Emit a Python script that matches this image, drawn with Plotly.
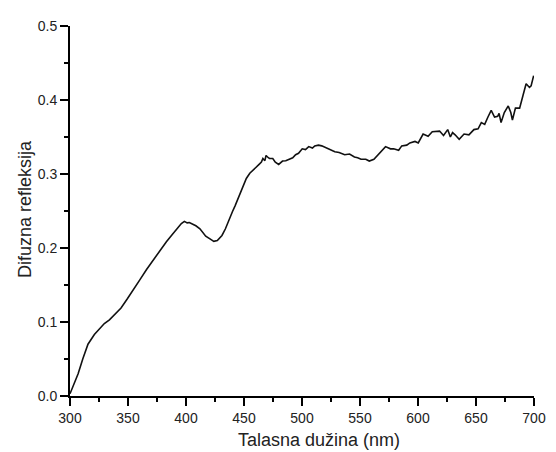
import plotly.graph_objects as go

wavelength = [300, 303, 307, 311, 315.5, 321, 325, 329.6, 334, 338, 344, 349.3, 355, 360.6, 366, 371.9,
              377, 383.1, 388, 393, 396, 398.6, 401, 402.9, 406, 408.5, 412, 417, 421, 424, 427, 431,
              434, 436.7, 440, 442.3, 446, 449.4, 452, 455, 458, 460.7, 463, 465, 466.3, 468, 469, 471,
              472, 474.8, 477, 479.9, 483.2, 486, 488.9, 492, 494.5, 497, 500.2, 503, 505.8, 509, 511,
              514.2, 517, 519.9, 524, 528.3, 532, 536.8, 541, 545.2, 548, 550.9, 555, 558, 562, 565,
              567.8, 570, 572, 576.3, 579, 583.3, 586, 590.3, 593, 597.4, 600.2, 604.4, 608.7, 612.3,
              615.7, 618.6, 622, 625.6, 627.9, 629.8, 632, 635.5, 639.7, 643.9, 648.2, 651.8, 654.6,
              657.5, 660.3, 663.1, 666, 668.7, 669.9, 671.6, 674.4, 677.8, 680, 681.4, 684, 687.6,
              690.5, 693.2, 696.1, 697.5, 699.7]

reflectance = [0.003, 0.014, 0.030, 0.050, 0.070, 0.083, 0.090, 0.098, 0.103, 0.109, 0.119, 0.131, 0.144,
               0.158, 0.171, 0.184, 0.196, 0.2085, 0.218, 0.228, 0.233, 0.236, 0.234, 0.2345, 0.232,
               0.230, 0.226, 0.216, 0.212, 0.209, 0.210, 0.217, 0.226, 0.237, 0.249, 0.257, 0.272,
               0.286, 0.294, 0.301, 0.306, 0.310, 0.313, 0.316, 0.321, 0.318, 0.325, 0.322, 0.321,
               0.321, 0.316, 0.313, 0.3175, 0.318, 0.320, 0.322, 0.326, 0.328, 0.334, 0.333, 0.337,
               0.335, 0.338, 0.339, 0.338, 0.336, 0.333, 0.330, 0.329, 0.326, 0.327, 0.323, 0.322,
               0.320, 0.320, 0.3175, 0.320, 0.325, 0.330, 0.334, 0.337, 0.334, 0.334, 0.332, 0.338,
               0.339, 0.342, 0.344, 0.342, 0.354, 0.351, 0.357, 0.357, 0.358, 0.352, 0.360, 0.350,
               0.356, 0.353, 0.347, 0.354, 0.353, 0.360, 0.361, 0.3695, 0.367, 0.377, 0.386, 0.377,
               0.378, 0.382, 0.3695, 0.383, 0.392, 0.383, 0.373, 0.389, 0.389, 0.406, 0.422, 0.417,
               0.419, 0.433]

x_title = "Talasna dužina (nm)"
y_title = "Difuzna refleksija"

FONT = "Arial"
TXT = "#222222"

fig = go.Figure()
fig.add_trace(go.Scatter(x=wavelength, y=reflectance, mode="lines",
                         line=dict(color="#111111", width=1.6), showlegend=False))

fig.update_xaxes(range=[300, 700], dtick=50, showline=True, linecolor="black", linewidth=1.8,
                 ticks="outside", ticklen=8, tickwidth=2, tickcolor="black", showgrid=False,
                 tickfont=dict(family=FONT, size=14, color=TXT),
                 minor=dict(ticks="outside", ticklen=4, dtick=25, tickwidth=2, tickcolor="black"))
fig.update_yaxes(range=[0, 0.5], dtick=0.1, tickformat=".1f", showline=True, linecolor="black",
                 linewidth=1.8, ticks="outside", ticklen=8, tickwidth=2, tickcolor="black",
                 showgrid=False, tickfont=dict(family=FONT, size=14, color=TXT),
                 minor=dict(ticks="outside", ticklen=4, dtick=0.05, tickwidth=2, tickcolor="black"))

# the page has an 8px body margin, so the figure is 8px smaller to keep the plot in place
fig.add_annotation(text=x_title, xref="paper", yref="paper", x=0.536, y=-0.119,
                   xanchor="center", yanchor="middle", showarrow=False,
                   font=dict(family=FONT, size=18, color=TXT))
fig.add_annotation(text=y_title, xref="paper", yref="paper", x=-0.0973, y=0.505,
                   xanchor="center", yanchor="middle", showarrow=False, textangle=-90,
                   font=dict(family=FONT, size=18, color=TXT))

fig.update_layout(
    width=548, height=444,
    margin=dict(l=62, r=13, t=10, b=56),
    plot_bgcolor="white", paper_bgcolor="white",
)

fig.write_html("out.html")
